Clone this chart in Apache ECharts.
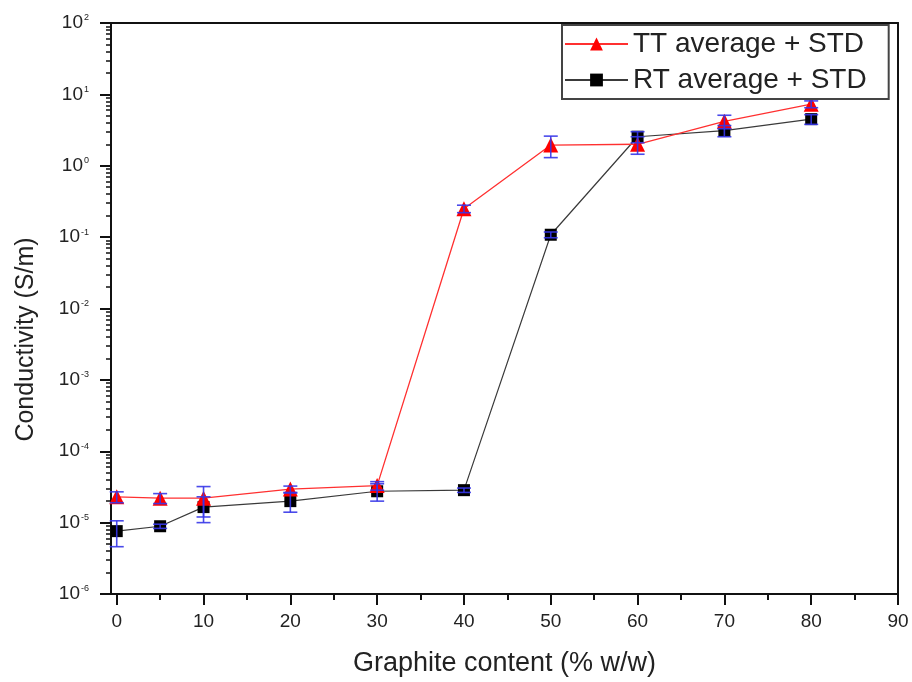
<!DOCTYPE html>
<html>
<head>
<meta charset="utf-8">
<script src="https://cdn.jsdelivr.net/npm/echarts@6/dist/echarts.min.js"></script>
<style>html,body{margin:0;padding:0;background:#fff}#c{width:912px;height:682px}</style>
</head>
<body>
<div id="c"></div>
<script>
// ---- data ----
const xValues = [0, 5, 10, 20, 30, 40, 50, 60, 70, 80];
const ttAvg = [2.3e-5, 2.2e-5, 2.2e-5, 2.95e-5, 3.3e-5, 0.25, 1.95, 2.0, 4.2, 7.3];
const ttStd = [0.4e-5, 0.35e-5, 1.0e-5, 0.3e-5, 0.45e-5, 0.03, 0.65, 0.55, 0.9, 0.8];
const rtAvg = [7.6e-6, 8.9e-6, 1.65e-5, 2.0e-5, 2.75e-5, 2.85e-5, 0.108, 2.55, 3.1, 4.5];
const rtStd = [3.0e-6, 0.6e-6, 0.65e-5, 0.6e-5, 0.75e-5, 0.2e-5, 0.01, 0.45, 0.55, 0.7];
const xMajorTicks = [0, 10, 20, 30, 40, 50, 60, 70, 80, 90];
const xMinorTicks = [5, 15, 25, 35, 45, 55, 65, 75, 85];
const seriesNames = ['TT average + STD', 'RT average + STD'];
const xTitle = 'Graphite content (% w/w)';
const yTitle = 'Conductivity (S/m)';

// minor log tick positions (in decades) for the decorative overlay axis
const yMinorTicks = [];
for (let d = -6; d < 2; d++) {
  for (let k = 2; k <= 9; k++) yMinorTicks.push(d + Math.log10(k));
}

const FONT = 'Liberation Sans, Arial, sans-serif';

function pairs(xs, ys) { return xs.map((x, i) => [x, ys[i]]); }
function errData(xs, avg, std) {
  return xs.map((x, i) => [x, avg[i] - std[i], avg[i] + std[i]]);
}
function errRender(params, api) {
  const x = api.value(0), lo = api.value(1), hi = api.value(2);
  const pHi = api.coord([x, hi]);
  const pLo = api.coord([x, lo]);
  const w = 7;
  const st = { stroke: '#3636e8', lineWidth: 1.6, opacity: 0.9 };
  return {
    type: 'group',
    children: [
      { type: 'line', shape: { x1: pHi[0], y1: pHi[1], x2: pLo[0], y2: pLo[1] }, style: st },
      { type: 'line', shape: { x1: pHi[0] - w, y1: pHi[1], x2: pHi[0] + w, y2: pHi[1] }, style: st },
      { type: 'line', shape: { x1: pLo[0] - w, y1: pLo[1], x2: pLo[0] + w, y2: pLo[1] }, style: st }
    ]
  };
}

const chart = echarts.init(document.getElementById('c'), null, { renderer: 'canvas' });
const axisLine = { show: true, onZero: false, lineStyle: { color: '#111', width: 2 } };
const noLine = { show: false, onZero: false };

chart.setOption({
  backgroundColor: '#fff',
  animation: false,
  grid: { left: 111, top: 23, right: 14, bottom: 87, containLabel: false },
  legend: {
    orient: 'vertical',
    left: 562, top: 25,
    padding: [5, 22, 5, 2],
    itemGap: 8,
    itemWidth: 63, itemHeight: 16,
    borderColor: '#444', borderWidth: 2,
    backgroundColor: '#fff',
    textStyle: { fontFamily: FONT, fontSize: 28, color: '#222' },
    data: seriesNames
  },
  xAxis: [
    {
      type: 'value', position: 'bottom', min: -0.66, max: 90,
      axisLine: axisLine,
      axisTick: { show: true, customValues: xMajorTicks, length: 11, lineStyle: { color: '#111', width: 2 } },
      axisLabel: { show: true, customValues: xMajorTicks, fontFamily: FONT, fontSize: 19, color: '#222', margin: 18 },
      splitLine: { show: false },
      name: xTitle, nameLocation: 'middle', nameGap: 56,
      nameTextStyle: { fontFamily: FONT, fontSize: 27, color: '#222' }
    },
    {
      type: 'value', position: 'bottom', min: -0.66, max: 90,
      axisLine: noLine,
      axisTick: { show: true, customValues: xMinorTicks, length: 6, lineStyle: { color: '#111', width: 2 } },
      axisLabel: { show: false },
      splitLine: { show: false }
    },
    {
      type: 'value', position: 'top', min: -0.66, max: 90,
      axisLine: axisLine, axisTick: { show: false }, axisLabel: { show: false }, splitLine: { show: false }
    }
  ],
  yAxis: [
    {
      type: 'log', logBase: 10, position: 'left', min: 1e-6, max: 100,
      axisLine: axisLine,
      axisTick: { show: true, length: 11, lineStyle: { color: '#111', width: 2 } },
      axisLabel: {
        margin: 22,
        formatter: function (v) {
          const e = Math.round(Math.log10(v));
          return '{b|10}{e|' + e + '}';
        },
        rich: {
          b: { fontFamily: FONT, fontSize: 19, color: '#222' },
          e: { fontFamily: FONT, fontSize: 9, color: '#222', verticalAlign: 'top', padding: [0, 0, 10, 1] }
        }
      },
      splitLine: { show: false },
      name: yTitle, nameLocation: 'middle', nameGap: 72,
      nameTextStyle: { fontFamily: FONT, fontSize: 25, color: '#222', padding: [0, 62, 0, 0] }
    },
    {
      type: 'value', position: 'left', min: -6, max: 2,
      axisLine: noLine,
      axisTick: { show: true, customValues: yMinorTicks, length: 5, lineStyle: { color: '#111', width: 1.5 } },
      axisLabel: { show: false },
      splitLine: { show: false }
    },
    {
      type: 'value', position: 'right', min: -6, max: 2,
      axisLine: axisLine, axisTick: { show: false }, axisLabel: { show: false }, splitLine: { show: false }
    }
  ],
  series: [
    {
      name: seriesNames[0], type: 'line', xAxisIndex: 0, yAxisIndex: 0,
      data: pairs(xValues, ttAvg),
      symbol: 'triangle', symbolSize: 15,
      itemStyle: { color: '#ff0000' },
      lineStyle: { color: '#ff3030', width: 1.3 },
      z: 3
    },
    {
      name: seriesNames[1], type: 'line', xAxisIndex: 0, yAxisIndex: 0,
      data: pairs(xValues, rtAvg),
      symbol: 'rect', symbolSize: 12,
      itemStyle: { color: '#000000' },
      lineStyle: { color: '#3a3a3a', width: 1.2 },
      z: 2
    },
    {
      name: 'TT err', type: 'custom', xAxisIndex: 0, yAxisIndex: 0,
      data: errData(xValues, ttAvg, ttStd),
      encode: { x: 0, y: [1, 2] },
      renderItem: errRender, z: 5, silent: true
    },
    {
      name: 'RT err', type: 'custom', xAxisIndex: 0, yAxisIndex: 0,
      data: errData(xValues, rtAvg, rtStd),
      encode: { x: 0, y: [1, 2] },
      renderItem: errRender, z: 5, silent: true
    }
  ]
});
</script>
</body>
</html>
